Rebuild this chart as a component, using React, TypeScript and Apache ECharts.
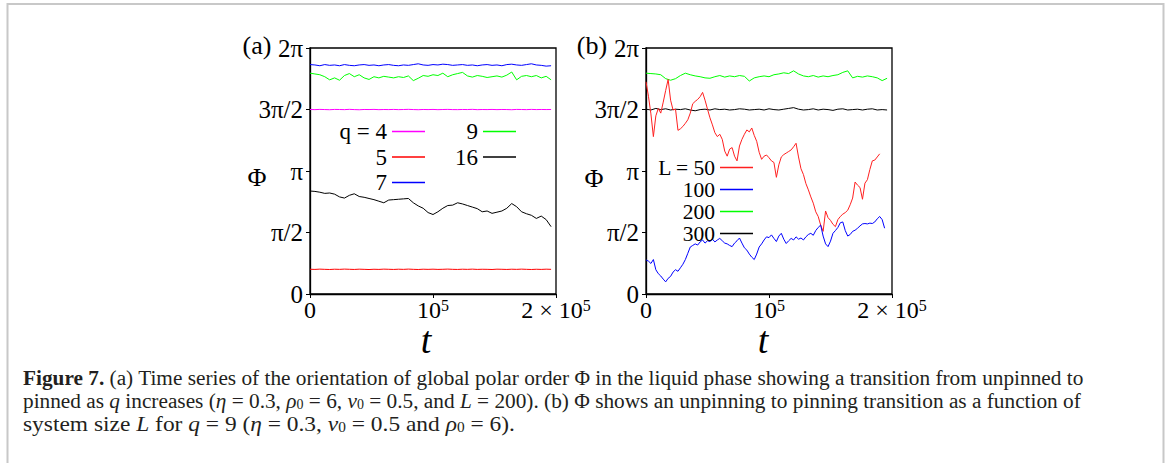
import React, { useEffect, useRef } from "react";
import * as echarts from "echarts";

const FONT = "'Liberation Serif', 'Times New Roman', Times, serif";
const PI = Math.PI;

// tick labels
const yTickLabels = ["0", "π/2", "π", "3π/2", "2π"];
const xTickLabels = ["{n|0}", "{n|10}{s|5}", "{n|2 × 10}{s|5}"];

// time grids (in units of 10^3)
const t4k = [0, 4, 8, 12, 16, 20, 24, 28, 32, 36, 40, 44, 48, 52, 56, 60, 64, 68, 72, 76, 80, 84, 88, 92, 96, 100, 104, 108, 112, 116, 120, 124, 128, 132, 136, 140, 144, 148, 152, 156, 160, 164, 168, 172, 176, 180, 184, 188, 192, 196];
const t2k = [0, 2, 4, 6, 8, 10, 12, 14, 16, 18, 20, 22, 24, 26, 28, 30, 32, 34, 36, 38, 40, 42, 44, 46, 48, 50, 52, 54, 56, 58, 60, 62, 64, 66, 68, 70, 72, 74, 76, 78, 80, 82, 84, 86, 88, 90, 92, 94, 96, 98, 100, 102, 104, 106, 108, 110, 112, 114, 116, 118, 120, 122, 124, 126, 128, 130, 132, 134, 136, 138, 140, 142, 144, 146, 148, 150, 152, 154, 156, 158, 160, 162, 164, 166, 168, 170, 172, 174, 176, 178, 180, 182, 184, 186, 188, 190, 192, 194];

// panel (a): Phi(t) for several q, L = 200
const phiQ4 = [
  4.713, 4.709, 4.715, 4.711, 4.707, 4.714, 4.712, 4.709, 4.716, 4.710,
  4.706, 4.713, 4.711, 4.715, 4.708, 4.712, 4.710, 4.714, 4.709, 4.712,
  4.716, 4.711, 4.707, 4.713, 4.710, 4.714, 4.708, 4.712, 4.715, 4.710,
  4.709, 4.713, 4.711, 4.716, 4.708, 4.712, 4.710, 4.714, 4.709, 4.713,
  4.711, 4.707, 4.714, 4.712, 4.709, 4.715, 4.710, 4.713, 4.711, 4.712,
];
const phiQ5 = [
  0.632, 0.628, 0.635, 0.630, 0.626, 0.633, 0.629, 0.636, 0.631, 0.627,
  0.634, 0.630, 0.625, 0.632, 0.628, 0.635, 0.631, 0.627, 0.633, 0.629,
  0.636, 0.630, 0.626, 0.633, 0.629, 0.634, 0.628, 0.631, 0.636, 0.630,
  0.627, 0.633, 0.629, 0.635, 0.628, 0.632, 0.630, 0.626, 0.634, 0.631,
  0.627, 0.633, 0.629, 0.635, 0.630, 0.626, 0.632, 0.628, 0.634, 0.630,
];
const phiQ7 = [
  5.86, 5.85, 5.83, 5.86, 5.84, 5.85, 5.83, 5.86, 5.84, 5.83,
  5.85, 5.86, 5.84, 5.85, 5.83, 5.85, 5.86, 5.84, 5.83, 5.85,
  5.84, 5.86, 5.88, 5.85, 5.84, 5.86, 5.85, 5.87, 5.86, 5.84,
  5.85, 5.86, 5.84, 5.85, 5.83, 5.85, 5.86, 5.84, 5.85, 5.83,
  5.86, 5.87, 5.85, 5.84, 5.86, 5.88, 5.85, 5.84, 5.82, 5.83,
];
const phiQ9 = [
  5.64, 5.62, 5.60, 5.55, 5.47, 5.52, 5.46, 5.58, 5.63, 5.55,
  5.60, 5.52, 5.48, 5.55, 5.52, 5.56, 5.54, 5.52, 5.55, 5.53,
  5.57, 5.45, 5.51, 5.58, 5.56, 5.60, 5.58, 5.64, 5.55, 5.60,
  5.63, 5.66, 5.57, 5.54, 5.58, 5.56, 5.53, 5.55, 5.57, 5.54,
  5.59, 5.67, 5.47, 5.56, 5.58, 5.55, 5.58, 5.52, 5.56, 5.47,
];
const phiQ16 = [
  2.63, 2.62, 2.60, 2.57, 2.58, 2.55, 2.48, 2.45, 2.52, 2.56,
  2.49, 2.47, 2.44, 2.41, 2.37, 2.33, 2.40, 2.41, 2.42, 2.43,
  2.44, 2.33, 2.25, 2.19, 2.08, 2.03, 2.10, 2.19, 2.26, 2.27,
  2.33, 2.30, 2.26, 2.22, 2.18, 2.10, 2.12, 2.06, 2.09, 2.12,
  2.19, 2.31, 2.23, 2.10, 2.05, 2.01, 1.93, 1.99, 1.90, 1.72,
];

// panel (b): Phi(t) for several L, q = 9
const phiL50 = [
  5.42, 5.05, 4.60, 4.02, 4.55, 4.74, 4.62, 4.90, 5.20, 5.48,
  4.95, 4.70, 4.72, 4.18, 4.22, 4.28, 4.36, 4.45, 4.62, 4.86,
  4.92, 4.97, 5.04, 5.15, 4.95, 4.72, 4.50, 4.32, 4.12, 4.02,
  4.08, 3.95, 3.65, 3.52, 3.70, 3.74, 3.52, 3.40, 3.78, 3.95,
  4.08, 4.19, 4.14, 4.24, 4.05, 3.90, 3.62, 3.44, 3.52, 3.55,
  3.48, 3.40, 3.36, 2.98, 3.30, 3.50, 3.56, 3.60, 3.64, 3.68,
  3.76, 3.85, 3.50, 3.20, 3.05, 2.82, 2.66, 2.48, 2.32, 2.10,
  1.98, 1.76, 1.60, 2.12, 1.95, 1.88, 1.78, 1.72, 1.90, 1.98,
  2.04, 2.08, 2.14, 2.28, 2.45, 2.86, 2.78, 2.72, 2.42, 2.83,
  2.92, 3.18, 3.40, 3.42, 3.50, 3.58,
];
const phiL100 = [
  0.87, 0.84, 0.78, 0.88, 0.62, 0.52, 0.46, 0.38, 0.31, 0.40,
  0.45, 0.56, 0.62, 0.58, 0.67, 0.76, 0.88, 1.04, 1.20, 1.24,
  1.28, 1.25, 1.33, 1.38, 1.30, 1.36, 1.34, 1.40, 1.33, 1.38,
  1.42, 1.36, 1.30, 1.28, 1.24, 1.21, 1.30, 1.36, 1.43, 1.30,
  1.18, 1.12, 1.02, 0.94, 0.88, 1.02, 1.20, 1.28, 1.38, 1.46,
  1.44, 1.51, 1.42, 1.34, 1.48, 1.55, 1.40, 1.29, 1.36, 1.42,
  1.38, 1.46, 1.40, 1.43, 1.38, 1.46, 1.52, 1.55, 1.50, 1.62,
  1.70, 1.76, 1.48, 1.28, 1.21, 1.35, 1.55, 1.62, 1.70, 1.82,
  1.84, 1.62, 1.48, 1.52, 1.60, 1.63, 1.68, 1.74, 1.79, 1.80,
  1.79, 1.81, 1.80, 1.84, 1.92, 1.98, 1.90, 1.68,
];
const phiL200 = [
  5.64, 5.63, 5.62, 5.60, 5.50, 5.46, 5.50, 5.58, 5.64, 5.60,
  5.57, 5.55, 5.52, 5.51, 5.55, 5.58, 5.54, 5.57, 5.55, 5.58,
  5.56, 5.44, 5.52, 5.55, 5.57, 5.55, 5.60, 5.62, 5.65, 5.63,
  5.70, 5.62, 5.57, 5.55, 5.58, 5.54, 5.57, 5.55, 5.58, 5.60,
  5.66, 5.70, 5.52, 5.56, 5.54, 5.57, 5.55, 5.52, 5.45, 5.51,
];
const phiL300 = [
  4.72, 4.70, 4.74, 4.71, 4.73, 4.70, 4.72, 4.71, 4.73, 4.70,
  4.68, 4.71, 4.72, 4.70, 4.73, 4.71, 4.72, 4.70, 4.71, 4.73,
  4.72, 4.70, 4.71, 4.72, 4.70, 4.73, 4.71, 4.70, 4.72, 4.74,
  4.76, 4.72, 4.70, 4.71, 4.73, 4.70, 4.72, 4.71, 4.69, 4.72,
  4.73, 4.70, 4.71, 4.72, 4.70, 4.72, 4.73, 4.70, 4.71, 4.70,
];

const captionLines = [
  "{b|Figure 7.} (a) Time series of the orientation of global polar order Φ in the liquid phase showing a transition from unpinned to",
  "pinned as {i|q} increases ({i|η} = 0.3, {i|ρ}{sub|0} = 6, {i|v}{sub|0} = 0.5, and {i|L} = 200). (b) Φ shows an unpinning to pinning transition as a function of",
  "system size {i|L} for {i|q} = 9 ({i|η} = 0.3, {i|v}{sub|0} = 0.5 and {i|ρ}{sub|0} = 6).",
];

function pairs(t: number[], v: number[]) {
  return v.map((val, i) => [t[i] * 1000, val]);
}

function mkSeries(name: string, t: number[], v: number[], color: string, panel: number) {
  return {
    name,
    type: "line",
    xAxisIndex: panel,
    yAxisIndex: panel,
    data: pairs(t, v),
    symbol: "none",
    showSymbol: false,
    silent: true,
    lineStyle: { color, width: 1 },
    itemStyle: { color },
  };
}

function txt(x: number, y: number, text: string, extra: any = {}, el: any = {}) {
  return {
    type: "text",
    x,
    y,
    silent: true,
    ...el,
    style: {
      text,
      fontFamily: FONT,
      fontSize: 24,
      fill: "#000",
      align: "center",
      verticalAlign: "middle",
      ...extra,
    },
  };
}

function buildOption(): any {
  const gridBase = { top: 48, width: 246, height: 246, show: true, borderColor: "#000", borderWidth: 1.3, backgroundColor: "transparent" };
  const xAxis = [0, 1].map((i) => ({
    type: "value",
    gridIndex: i,
    min: 0,
    max: 200000,
    interval: 100000,
    axisLine: { show: true, lineStyle: { color: "#000", width: 1.3 } },
    axisTick: { show: true, length: 4, lineStyle: { color: "#000", width: 1 } },
    splitLine: { show: false },
    axisLabel: {
      margin: 3,
      color: "#000",
      fontFamily: FONT,
      fontSize: 24,
      showMaxLabel: true,
      showMinLabel: true,
      formatter: (v: number) => xTickLabels[Math.round(v / 100000)] || "",
      rich: {
        n: { fontFamily: FONT, fontSize: 24, color: "#000", lineHeight: 25 },
        s: { fontFamily: FONT, fontSize: 16, color: "#000", lineHeight: 10, verticalAlign: "top" },
      },
    },
  }));
  const yAxis = [0, 1].map((i) => ({
    type: "value",
    gridIndex: i,
    min: 0,
    max: 2 * PI,
    interval: PI / 2,
    axisLine: { show: true, lineStyle: { color: "#000", width: 1.3 } },
    axisTick: { show: true, length: 4, lineStyle: { color: "#000", width: 1 } },
    splitLine: { show: false },
    axisLabel: {
      margin: 7,
      color: "#000",
      fontFamily: FONT,
      fontSize: 25,
      showMaxLabel: true,
      showMinLabel: true,
      formatter: (v: number) => yTickLabels[Math.round(v / (PI / 2))] || "",
    },
  }));

  const legendBase = {
    orient: "vertical",
    align: "right",
    itemWidth: 33,
    padding: 0,
    selectedMode: false,
    icon: "path://M0,0L100,0L100,4L0,4Z",
    textStyle: { fontFamily: FONT, fontSize: 23, color: "#000" },
  };

  const captionRich = {
    b: { fontFamily: FONT, fontSize: 21.3, fontWeight: "bold", fill: "#231f20", color: "#231f20" },
    i: { fontFamily: FONT, fontSize: 21.3, fontStyle: "italic", fill: "#231f20", color: "#231f20" },
    sub: { fontFamily: FONT, fontSize: 14, fill: "#231f20", color: "#231f20", verticalAlign: "bottom", lineHeight: 10 },
  };
  const captionScale = [1, 1, 1.1];

  return {
    animation: false,
    backgroundColor: "#fff",
    grid: [
      { ...gridBase, left: 310 },
      { ...gridBase, left: 646 },
    ],
    xAxis,
    yAxis,
    legend: [
      { ...legendBase, data: ["q = 4", "5", "7"], right: 742, top: 120, itemHeight: 22, itemGap: 2.5, textStyle: { ...legendBase.textStyle, lineHeight: 22 } },
      { ...legendBase, data: ["9", "16"], right: 651, top: 120, itemHeight: 22, itemGap: 2.5, textStyle: { ...legendBase.textStyle, lineHeight: 22 } },
      { ...legendBase, data: ["L = 50", "100", "200", "300"], right: 414, top: 156.5, itemHeight: 21.7, itemGap: 0, textStyle: { ...legendBase.textStyle, fontSize: 21.5, lineHeight: 21.7 } },
    ],
    series: [
      mkSeries("q = 4", t4k, phiQ4, "#ff00ff", 0),
      mkSeries("5", t4k, phiQ5, "#ff0000", 0),
      mkSeries("7", t4k, phiQ7, "#0000ff", 0),
      mkSeries("9", t4k, phiQ9, "#00ff00", 0),
      mkSeries("16", t4k, phiQ16, "#000000", 0),
      mkSeries("200", t4k, phiL200, "#00ff00", 1),
      mkSeries("300", t4k, phiL300, "#000000", 1),
      mkSeries("L = 50", t2k, phiL50, "#ff2020", 1),
      mkSeries("100", t2k, phiL100, "#0000ff", 1),
    ],
    graphic: [
      {
        type: "rect",
        silent: true,
        z: -10,
        shape: { x: 7.5, y: 4, width: 1156, height: 520 },
        style: { fill: "none", stroke: "#c8c8c8", lineWidth: 2 },
      },
      txt(257, 45, "(a)", { fontSize: 26 }),
      txt(592, 45, "(b)", { fontSize: 26 }),
      txt(257, 177, "Φ", { fontSize: 26 }),
      txt(594, 178, "Φ", { fontSize: 26 }),
      txt(426, 340, "t", { fontSize: 38, fontStyle: "italic" }),
      txt(763, 340, "t", { fontSize: 38, fontStyle: "italic" }),
      ...captionLines.map((line, k) =>
        txt(23, 378 + 23 * k, line, { fontSize: 21.3, fill: "#231f20", align: "left", rich: captionRich }, { scaleX: captionScale[k] })
      ),
    ],
  };
}

export default function App() {
  const ref = useRef<HTMLDivElement>(null);
  useEffect(() => {
    if (!ref.current) return;
    const chart = echarts.init(ref.current, null, { renderer: "svg" });
    chart.setOption(buildOption());
    return () => chart.dispose();
  }, []);
  return (
    <div
      ref={ref}
      style={{ position: "fixed", left: 0, top: 0, width: 1167, height: 463, background: "#fff" }}
    />
  );
}
